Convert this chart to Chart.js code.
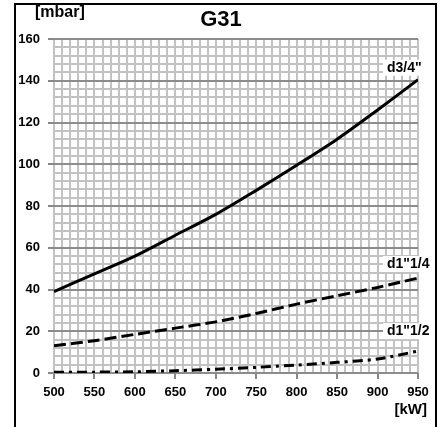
<!DOCTYPE html>
<html>
<head>
<meta charset="utf-8">
<script src="https://cdn.jsdelivr.net/npm/chart.js@4.4.1/dist/chart.umd.min.js"></script>
<style>
  body { margin: 0; background: #fff; }
  canvas { display: block; }
</style>
</head>
<body>
<canvas id="chart" width="443" height="427"></canvas>
<script>
// data
const kw = [500, 550, 600, 650, 700, 750, 800, 850, 900, 950];
const d34 = [39, 47.5, 56, 66, 76, 87.5, 99.5, 112, 126, 140.5];
const d114 = [13, 15.5, 18.5, 21.5, 24.5, 28.5, 33, 37, 41, 45.5];
const d112 = [0.3, 0.4, 0.6, 1.1, 1.8, 2.7, 3.8, 5.1, 6.7, 10.5];
const seriesNames = ['d3/4"', 'd1"1/4', 'd1"1/2'];
const xTicks = [500, 550, 600, 650, 700, 750, 800, 850, 900, 950];
const yTicks = [0, 20, 40, 60, 80, 100, 120, 140, 160];

const font = 'Liberation Sans, Arial, sans-serif';

function pts(vals) {
    return kw.map((x, i) => ({ x: x, y: vals[i] }));
}

// labels at the end of each curve, titles and frame
const textPlugin = {
    id: 'texts',
    afterDatasetsDraw(chart) {
        const ctx = chart.ctx;
        const xs = chart.scales.x;
        const ys = chart.scales.y;
        const offsets = [12, 14, 20];
        ctx.save();
        ctx.font = 'bold 14px ' + font;
        ctx.textBaseline = 'middle';
        chart.data.datasets.forEach((ds, i) => {
            const last = ds.data[ds.data.length - 1];
            const y = ys.getPixelForValue(last.y) - offsets[i];
            const x = xs.getPixelForValue(last.x) - 31;
            const w = ctx.measureText(seriesNames[i]).width;
            ctx.fillStyle = '#fff';
            ctx.fillRect(x - 4, y - 8, w + 6, 16);
            ctx.fillStyle = '#000';
            ctx.fillText(seriesNames[i], x, y);
        });
        ctx.restore();
    },
    afterDraw(chart) {
        const ctx = chart.ctx;
        ctx.save();
        ctx.fillStyle = '#000';
        ctx.font = 'bold 22px ' + font;
        ctx.textAlign = 'center';
        ctx.fillText('G31', 221, 26);
        ctx.font = 'bold 16px ' + font;
        ctx.textAlign = 'left';
        ctx.fillText('[mbar]', 35, 17);
        ctx.font = 'bold 15px ' + font;
        ctx.textAlign = 'right';
        ctx.fillText('[kW]', 427, 414);
        // frame
        ctx.strokeStyle = '#000';
        ctx.lineWidth = 2;
        ctx.beginPath();
        ctx.moveTo(15, 427);
        ctx.lineTo(15, 4);
        ctx.lineTo(436, 4);
        ctx.lineTo(436, 427);
        ctx.stroke();
        ctx.restore();
    }
};

new Chart(document.getElementById('chart'), {
    type: 'line',
    data: {
        datasets: [{
            label: seriesNames[0],
            data: pts(d34),
            borderColor: '#000',
            borderWidth: 3,
            pointRadius: 0,
            tension: 0.3
        }, {
            label: seriesNames[1],
            data: pts(d114),
            borderColor: '#000',
            borderWidth: 3,
            borderDash: [12, 5],
            pointRadius: 0,
            tension: 0.3
        }, {
            label: seriesNames[2],
            data: pts(d112),
            borderColor: '#000',
            borderWidth: 3,
            borderDash: [10, 5, 3, 5],
            pointRadius: 0,
            tension: 0.3
        }]
    },
    options: {
        responsive: false,
        animation: false,
        layout: { padding: { left: 14, right: 25, top: 39, bottom: 24 } },
        plugins: { legend: { display: false }, tooltip: { enabled: false } },
        scales: {
            x: {
                type: 'linear',
                min: 500,
                max: 950,
                afterFit: function (scale) { scale.height = 30; },
                border: { display: false },
                grid: {
                    color: '#c2c2c2',
                    lineWidth: 2,
                    tickLength: 6,
                    tickColor: ctx => xTicks.includes(ctx.tick.value) ? '#888' : 'rgba(0,0,0,0)'
                },
                ticks: {
                    stepSize: 10,
                    autoSkip: false,
                    maxRotation: 0,
                    padding: 6,
                    color: '#000',
                    font: { family: font, size: 13, weight: 'bold' },
                    callback: v => xTicks.includes(v) ? String(v) : ''
                }
            },
            y: {
                min: 0,
                max: 160,
                afterFit: function (scale) { scale.width = 40; },
                border: { display: false },
                grid: {
                    color: ctx => yTicks.includes(ctx.tick.value) ? '#8c8c8c' : '#c2c2c2',
                    lineWidth: 2,
                    tickLength: 6,
                    tickColor: ctx => yTicks.includes(ctx.tick.value) ? '#888' : 'rgba(0,0,0,0)'
                },
                ticks: {
                    stepSize: 4,
                    autoSkip: false,
                    padding: 8,
                    color: '#000',
                    font: { family: font, size: 13, weight: 'bold' },
                    callback: v => yTicks.includes(v) ? String(v) : ''
                }
            }
        }
    },
    plugins: [textPlugin]
});
</script>
</body>
</html>
